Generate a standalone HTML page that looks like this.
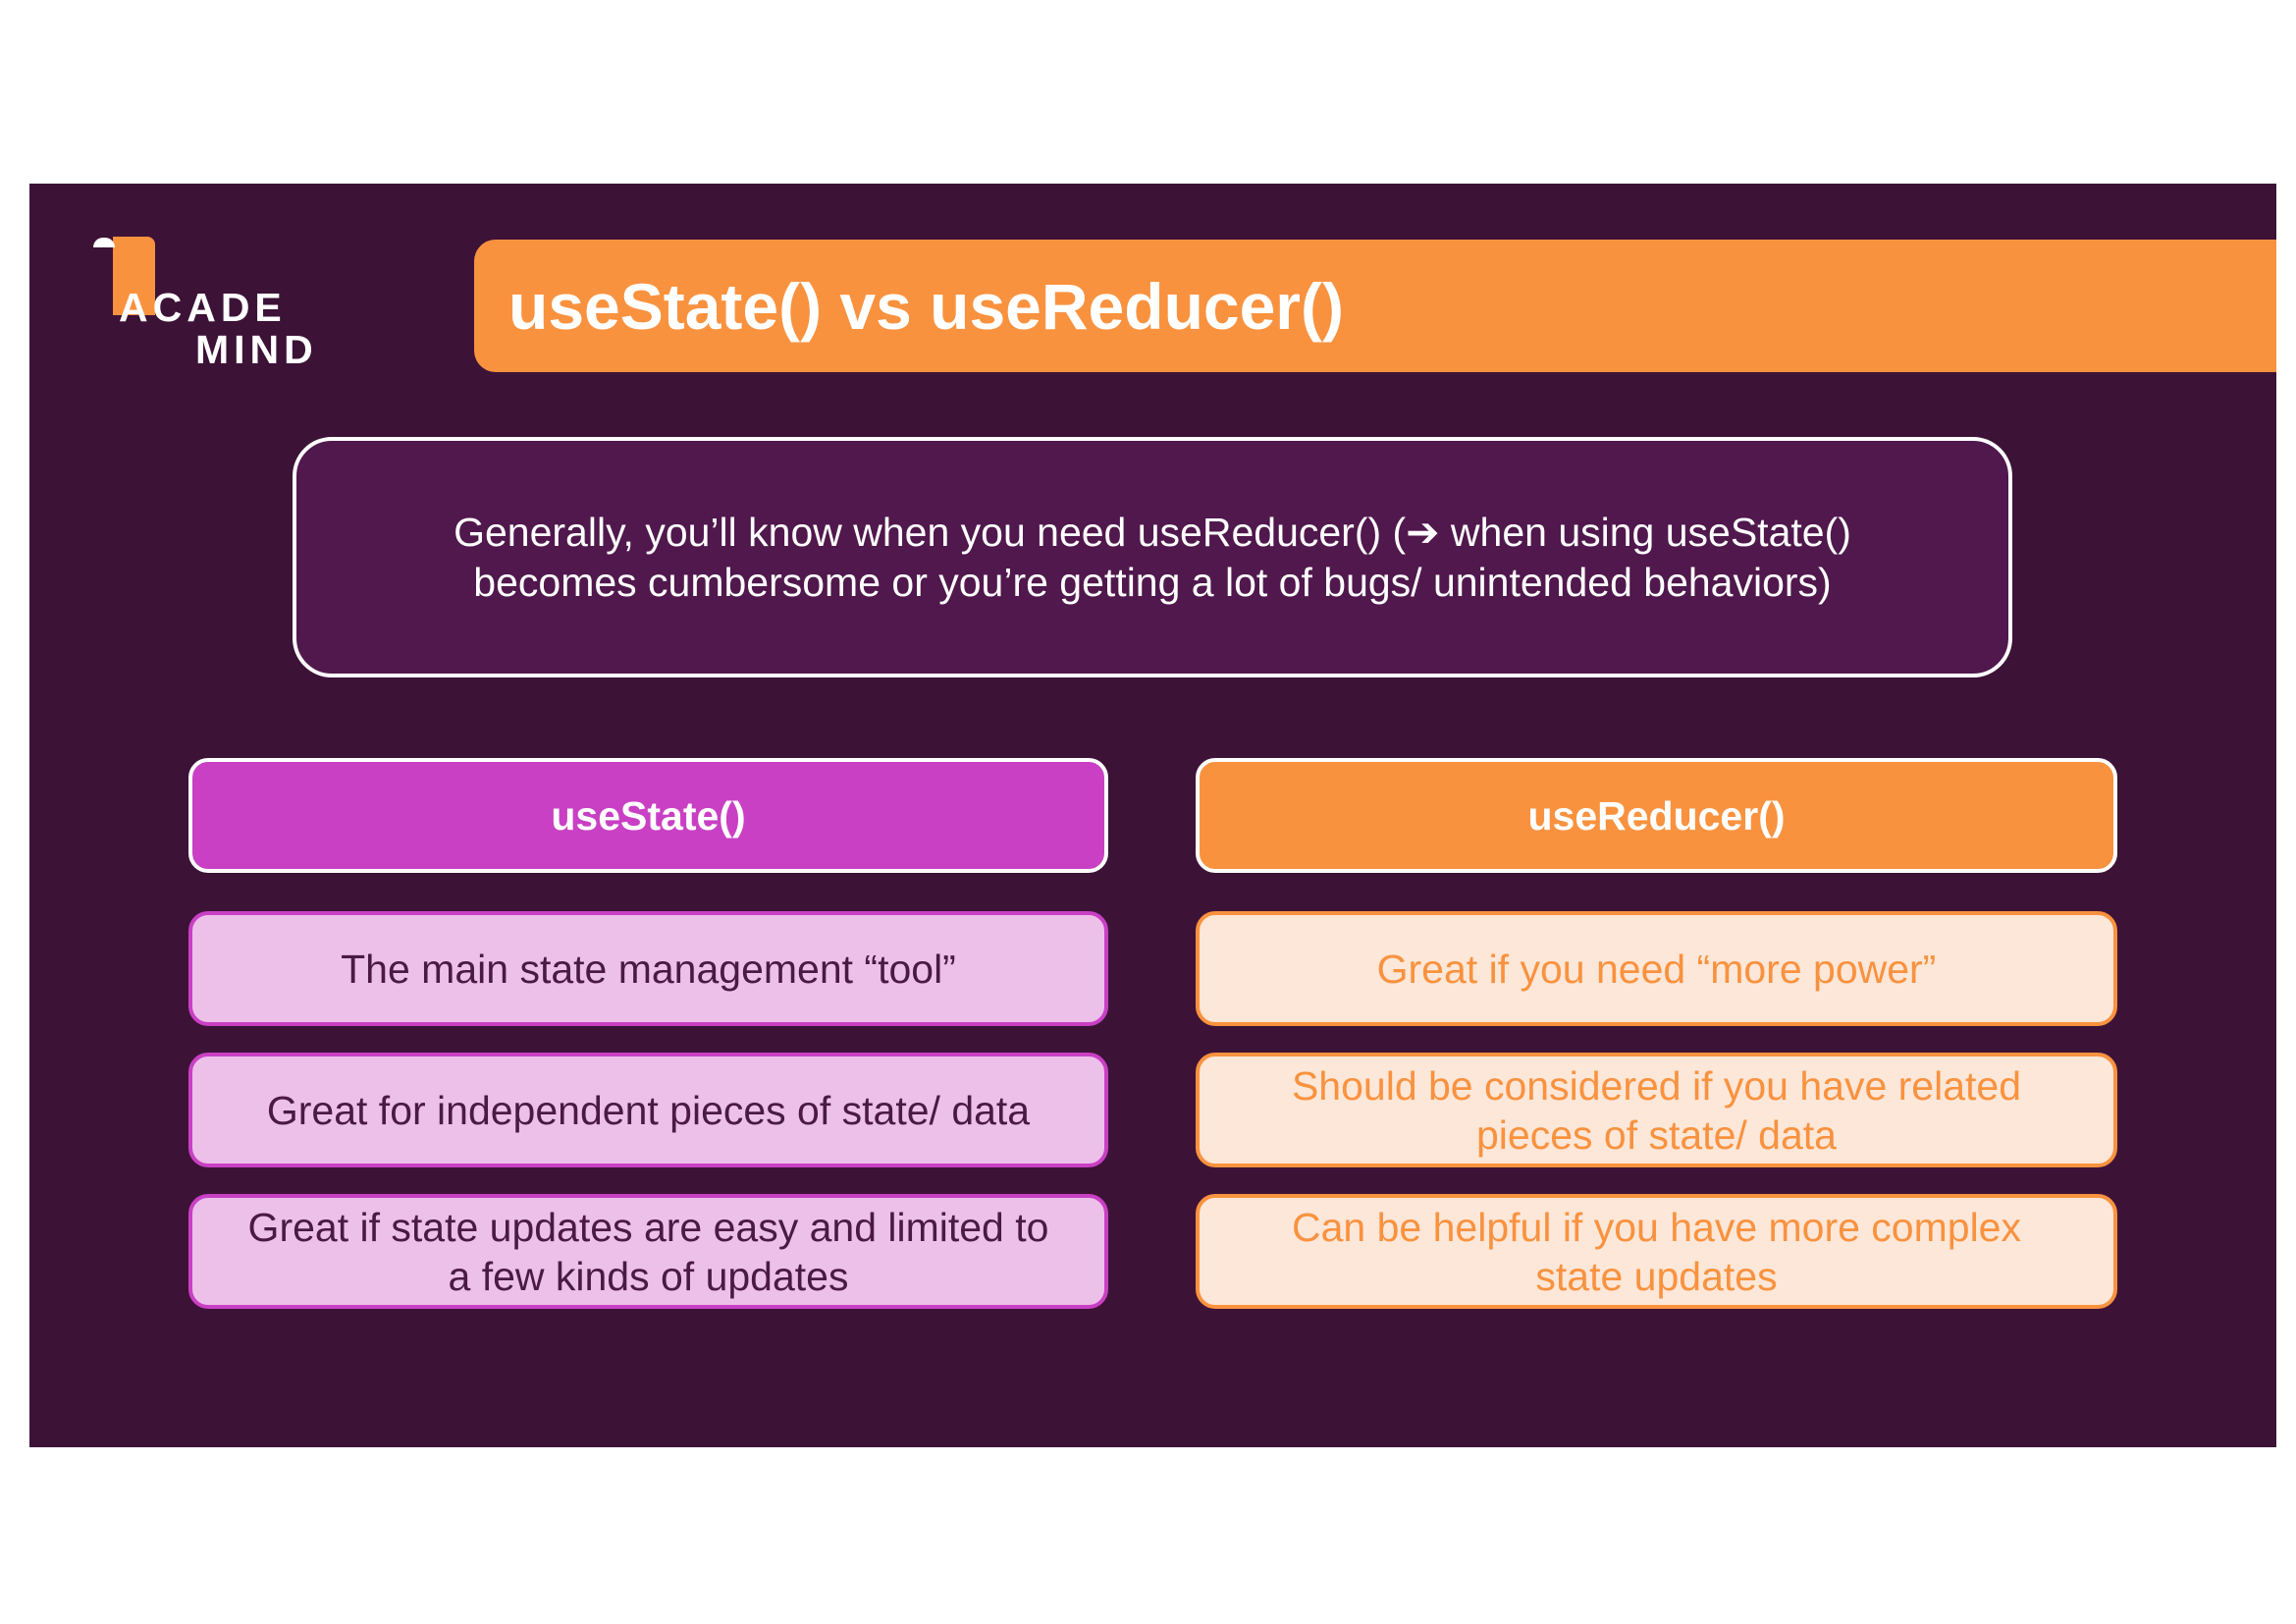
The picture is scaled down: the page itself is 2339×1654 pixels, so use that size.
<!DOCTYPE html>
<html><head><meta charset="utf-8"><style>
html,body{margin:0;padding:0;background:#fff;}
body{width:2339px;height:1654px;position:relative;overflow:hidden;font-family:"Liberation Sans",sans-serif;}
.abs{position:absolute;box-sizing:border-box;}
.bg{left:30px;top:187px;width:2289px;height:1287px;background:#3d1237;}
.title{left:483px;top:244px;width:1836px;height:135px;background:#f9923f;border-radius:22px 0 0 22px;}
.title span{position:absolute;left:35px;top:30px;font-size:66px;font-weight:bold;color:#fff;}
.info{left:298px;top:445px;width:1752px;height:245px;background:#50184d;border:4.5px solid #fff;border-radius:40px;display:flex;align-items:center;justify-content:center;text-align:center;color:#fff;font-size:41px;line-height:51px;}
.box{display:flex;align-items:center;justify-content:center;text-align:center;border-radius:20px;font-size:41px;line-height:50px;border:4.5px solid;}
.hl{left:192px;top:772px;width:937px;height:117px;background:#c940c4;border-color:#fff;color:#fff;font-weight:bold;}
.hr{left:1218px;top:772px;width:939px;height:117px;background:#f9923f;border-color:#fff;color:#fff;font-weight:bold;}
.l{left:192px;width:937px;height:117px;background:#edc0ea;border-color:#c940c4;color:#4a1a45;}
.r{left:1218px;width:939px;height:117px;background:#fde7d8;border-color:#f9923f;color:#f9923f;}
</style></head><body>
<div class="abs bg"></div>
<div class="abs" style="left:115px;top:241px;width:43px;height:80px;background:#f9923f;border-radius:0 8px 0 0;"></div>
<div class="abs" style="left:95px;top:242px;width:22px;height:10px;background:#fff;border-radius:10px 10px 0 0;"></div>
<div class="abs" style="left:121px;top:290px;font-size:41px;font-weight:bold;color:#fff;letter-spacing:5px;">ACADE</div>
<div class="abs" style="left:199px;top:333px;font-size:41px;font-weight:bold;color:#fff;letter-spacing:5px;">MIND</div>
<div class="abs title"><span>useState() vs useReducer()</span></div>
<div class="abs info"><div>Generally, you’ll know when you need useReducer() (➔ when using useState()<br>becomes cumbersome or you’re getting a lot of bugs/ unintended behaviors)</div></div>
<div class="abs box hl">useState()</div>
<div class="abs box hr">useReducer()</div>
<div class="abs box l" style="top:928px;">The main state management “tool”</div>
<div class="abs box l" style="top:1072px;">Great for independent pieces of state/ data</div>
<div class="abs box l" style="top:1216px;">Great if state updates are easy and limited to<br>a few kinds of updates</div>
<div class="abs box r" style="top:928px;">Great if you need “more power”</div>
<div class="abs box r" style="top:1072px;">Should be considered if you have related<br>pieces of state/ data</div>
<div class="abs box r" style="top:1216px;">Can be helpful if you have more complex<br>state updates</div>
</body></html>
